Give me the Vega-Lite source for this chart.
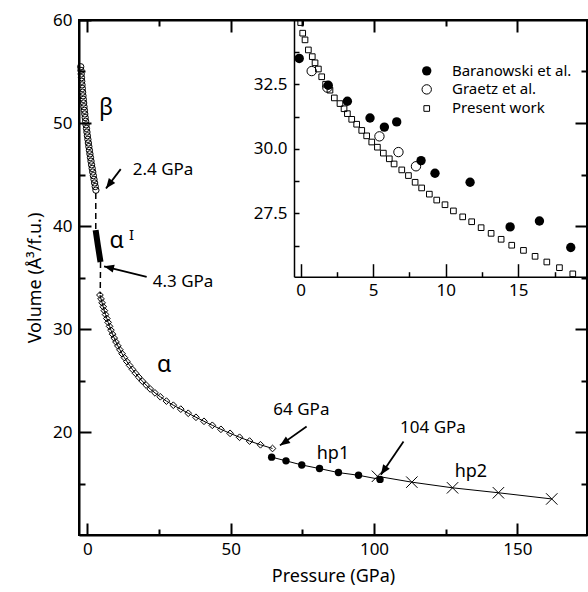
{
  "$schema": "https://vega.github.io/schema/vega-lite/v6.json",
  "width": 508,
  "height": 515,
  "autosize": "none",
  "padding": {"left": 79, "top": 20, "right": 1, "bottom": 57},
  "background": "white",
  "config": {
    "font": "Noto Sans",
    "view": {"stroke": "black", "strokeWidth": 2},
    "axis": {"labelFont": "Noto Sans", "titleFont": "Noto Sans", "labelColor": "black", "titleColor": "black", "domainColor": "black", "tickColor": "black", "ticks": true, "zindex": 1, "grid": false, "titleFontWeight": "normal", "labelFontSize": 17, "titleFontSize": 18}
  },
  "datasets": {
    "beta": [
      {"P": -2.30, "V": 55.46}, {"P": -2.22, "V": 55.11}, {"P": -2.13, "V": 54.76}, {"P": -2.04, "V": 54.40}, {"P": -1.94, "V": 54.05},
      {"P": -1.84, "V": 53.70}, {"P": -1.74, "V": 53.35}, {"P": -1.63, "V": 52.99}, {"P": -1.51, "V": 52.64}, {"P": -1.39, "V": 52.29},
      {"P": -1.27, "V": 51.94}, {"P": -1.14, "V": 51.58}, {"P": -1.01, "V": 51.23}, {"P": -0.88, "V": 50.88}, {"P": -0.74, "V": 50.53},
      {"P": -0.59, "V": 50.17}, {"P": -0.44, "V": 49.82}, {"P": -0.29, "V": 49.47}, {"P": -0.13, "V": 49.12}, {"P": 0.03, "V": 48.76},
      {"P": 0.20, "V": 48.41}, {"P": 0.37, "V": 48.06}, {"P": 0.54, "V": 47.71}, {"P": 0.73, "V": 47.35}, {"P": 0.91, "V": 47.00},
      {"P": 1.10, "V": 46.65}, {"P": 1.29, "V": 46.30}, {"P": 1.49, "V": 45.94}, {"P": 1.70, "V": 45.59}, {"P": 1.90, "V": 45.24},
      {"P": 2.11, "V": 44.89}, {"P": 2.33, "V": 44.53}, {"P": 2.55, "V": 44.18}, {"P": 2.77, "V": 43.83}, {"P": 3.00, "V": 43.48}
    ],
    "dash": [
      {"seg": "a", "P": 2.95, "V": 43.2}, {"seg": "a", "P": 2.95, "V": 39.6},
      {"seg": "b", "P": 4.62, "V": 36.5}, {"seg": "b", "P": 4.5, "V": 33.4}
    ],
    "alphaI": [
      {"P": 2.9, "V": 39.6}, {"P": 3.7, "V": 38.1}, {"P": 4.6, "V": 36.5}
    ],
    "alpha": [
      {"P": 4.40, "V": 33.30}, {"P": 4.78, "V": 32.92}, {"P": 5.16, "V": 32.54}, {"P": 5.55, "V": 32.16}, {"P": 5.95, "V": 31.78},
      {"P": 6.37, "V": 31.40}, {"P": 6.81, "V": 31.02}, {"P": 7.27, "V": 30.64}, {"P": 7.75, "V": 30.26}, {"P": 8.26, "V": 29.88},
      {"P": 8.80, "V": 29.50}, {"P": 9.38, "V": 29.12}, {"P": 10.00, "V": 28.74}, {"P": 10.66, "V": 28.36}, {"P": 11.37, "V": 27.98},
      {"P": 12.13, "V": 27.60}, {"P": 12.94, "V": 27.22}, {"P": 13.81, "V": 26.84}, {"P": 14.74, "V": 26.46}, {"P": 15.74, "V": 26.08},
      {"P": 16.81, "V": 25.70}, {"P": 17.96, "V": 25.32}, {"P": 19.19, "V": 24.94}, {"P": 20.51, "V": 24.56}, {"P": 21.93, "V": 24.18},
      {"P": 23.60, "V": 23.80}, {"P": 25.45, "V": 23.42}, {"P": 27.60, "V": 23.00}, {"P": 30.00, "V": 22.60}, {"P": 32.60, "V": 22.22},
      {"P": 35.20, "V": 21.82}, {"P": 37.90, "V": 21.43}, {"P": 40.70, "V": 21.04}, {"P": 43.60, "V": 20.65}, {"P": 46.60, "V": 20.26},
      {"P": 49.80, "V": 19.87}, {"P": 53.10, "V": 19.49}, {"P": 56.60, "V": 19.12}, {"P": 60.40, "V": 18.76}, {"P": 64.60, "V": 18.40}
    ],
    "hp1": [
      {"P": 64.3, "V": 17.56}, {"P": 69.3, "V": 17.2}, {"P": 74.8, "V": 16.8}, {"P": 81.0, "V": 16.45},
      {"P": 87.6, "V": 16.06}, {"P": 94.6, "V": 15.8}, {"P": 102.1, "V": 15.4}
    ],
    "hp2": [
      {"P": 101.2, "V": 15.7}, {"P": 113.2, "V": 15.13}, {"P": 127.4, "V": 14.58}, {"P": 143.4, "V": 14.1}, {"P": 162.0, "V": 13.5}
    ],
    "arrows": [
      {"id": 1, "P": 11.65, "V": 45.52, "P2": 6.52, "V2": 43.64},
      {"id": 2, "P": 20.7, "V": 35.05, "P2": 5.83, "V2": 36.09},
      {"id": 3, "P": 76.5, "V": 20.54, "P2": 67.2, "V2": 18.7},
      {"id": 4, "P": 110.3, "V": 19.08, "P2": 102.4, "V2": 15.84}
    ],
    "notes": [
      {"label": "2.4 GPa", "P": 15.84, "V": 44.94},
      {"label": "4.3 GPa", "P": 22.82, "V": 34.08},
      {"label": "64 GPa", "P": 64.9, "V": 21.61},
      {"label": "104 GPa", "P": 109.1, "V": 19.9}
    ],
    "phases": [
      {"label": "hp1", "P": 85.7, "V": 17.4},
      {"label": "hp2", "P": 133.8, "V": 15.62}
    ],
    "greek": [
      {"label": "β", "P": 6.5, "V": 50.8},
      {"label": "α", "P": 10.2, "V": 37.84},
      {"label": "α", "P": 26.8, "V": 25.79}
    ],
    "prime": [
      {"label": "I", "P": 15.4, "V": 38.6}
    ],
    "present": [
      {"P": 0.0, "V": 34.9}, {"P": 0.14, "V": 34.49}, {"P": 0.30, "V": 34.23}, {"P": 0.53, "V": 33.84}, {"P": 0.80, "V": 33.58},
      {"P": 0.99, "V": 33.34}, {"P": 1.22, "V": 33.10}, {"P": 1.45, "V": 32.80}, {"P": 1.72, "V": 32.51}, {"P": 2.02, "V": 32.28},
      {"P": 2.32, "V": 31.98}, {"P": 2.71, "V": 31.76}, {"P": 2.99, "V": 31.56}, {"P": 3.22, "V": 31.37}, {"P": 3.52, "V": 31.15},
      {"P": 3.86, "V": 30.96}, {"P": 4.21, "V": 30.72}, {"P": 4.55, "V": 30.51}, {"P": 4.90, "V": 30.27}, {"P": 5.29, "V": 30.07},
      {"P": 5.70, "V": 29.84}, {"P": 6.11, "V": 29.62}, {"P": 6.44, "V": 29.42}, {"P": 6.97, "V": 29.19}, {"P": 7.43, "V": 28.97},
      {"P": 7.89, "V": 28.71}, {"P": 8.34, "V": 28.49}, {"P": 8.87, "V": 28.25}, {"P": 9.38, "V": 28.02}, {"P": 9.95, "V": 27.84},
      {"P": 10.53, "V": 27.60}, {"P": 11.17, "V": 27.37}, {"P": 11.79, "V": 27.18}, {"P": 12.44, "V": 26.95}, {"P": 13.13, "V": 26.73},
      {"P": 13.82, "V": 26.50}, {"P": 14.55, "V": 26.27}, {"P": 15.36, "V": 26.07}, {"P": 16.16, "V": 25.84}, {"P": 16.97, "V": 25.62},
      {"P": 17.84, "V": 25.40}, {"P": 18.76, "V": 25.16}
    ],
    "baranowski": [
      {"P": -0.1, "V": 33.51}, {"P": 1.90, "V": 32.47}, {"P": 3.22, "V": 31.85}, {"P": 4.78, "V": 31.20}, {"P": 5.77, "V": 30.85},
      {"P": 6.62, "V": 31.05}, {"P": 8.30, "V": 29.55}, {"P": 9.26, "V": 29.06}, {"P": 11.68, "V": 28.71}, {"P": 14.44, "V": 26.98},
      {"P": 16.46, "V": 27.21}, {"P": 18.62, "V": 26.18}
    ],
    "graetz": [
      {"P": 0.76, "V": 33.02}, {"P": 1.84, "V": 32.38}, {"P": 5.43, "V": 30.49}, {"P": 6.74, "V": 29.88}, {"P": 7.95, "V": 29.33}
    ],
    "legend": [
      {"series": "Baranowski et al.", "P": 8.69, "V": 33.03, "T": 10.43},
      {"series": "Graetz et al.", "P": 8.69, "V": 32.31, "T": 10.43},
      {"series": "Present work", "P": 8.69, "V": 31.57, "T": 10.43}
    ]
  },
  "layer": [
    {
      "data": {"name": "beta"},
      "mark": {"type": "point", "shape": "circle", "filled": false, "stroke": "black", "strokeWidth": 1, "size": 40, "opacity": 1},
      "encoding": {
        "x": {"field": "P", "type": "quantitative", "scale": {"domain": [-2.9, 174.3], "nice": false, "zero": false},
          "axis": {"orient": "bottom", "values": [0, 50, 100, 150], "tickSize": -12, "tickWidth": 2, "domainWidth": 2,
            "labelPadding": 18, "title": "Pressure (GPa)", "titlePadding": 10}},
        "y": {"field": "V", "type": "quantitative", "scale": {"domain": [10, 60], "nice": false, "zero": false},
          "axis": {"orient": "left", "values": [20, 30, 40, 50, 60], "tickSize": -12, "tickWidth": 2, "domainWidth": 2,
            "labelPadding": 19, "title": "Volume (Å³/f.u.)", "titlePadding": 8}}
      }
    },
    {
      "data": {"name": "hp2"},
      "mark": {"type": "line", "stroke": "black", "strokeWidth": 1},
      "encoding": {
        "x": {"field": "P", "type": "quantitative", "scale": {"domain": [-2.9, 174.3], "nice": false, "zero": false},
          "axis": {"orient": "bottom", "values": [25, 75, 125], "labels": false, "domain": false, "tickSize": -6, "tickWidth": 2, "title": null}},
        "y": {"field": "V", "type": "quantitative", "scale": {"domain": [10, 60], "nice": false, "zero": false},
          "axis": {"orient": "left", "values": [15, 25, 35, 45, 55], "labels": false, "domain": false, "tickSize": -6, "tickWidth": 2, "title": null}}
      }
    },
    {
      "data": {"name": "hp2"},
      "mark": {"type": "point", "shape": "M-1,-1L1,1M-1,1L1,-1", "filled": false, "stroke": "black", "strokeWidth": 1, "size": 130, "opacity": 1},
      "encoding": {
        "x": {"field": "P", "type": "quantitative", "scale": {"domain": [-2.9, 174.3], "nice": false, "zero": false},
          "axis": {"orient": "top", "values": [0, 50, 100, 150], "labels": false, "domainWidth": 2, "tickSize": -12, "tickWidth": 2, "title": null}},
        "y": {"field": "V", "type": "quantitative", "scale": {"domain": [10, 60], "nice": false, "zero": false},
          "axis": {"orient": "right", "values": [20, 30, 40, 50], "labels": false, "domainWidth": 2, "tickSize": -12, "tickWidth": 2, "title": null}}
      }
    },
    {
      "data": {"name": "dash"},
      "mark": {"type": "line", "stroke": "black", "strokeWidth": 1.5, "strokeDash": [6, 4]},
      "encoding": {
        "x": {"field": "P", "type": "quantitative", "scale": {"domain": [-2.9, 174.3], "nice": false, "zero": false},
          "axis": {"orient": "top", "values": [25, 75, 125], "labels": false, "domain": false, "tickSize": -6, "tickWidth": 2, "title": null}},
        "y": {"field": "V", "type": "quantitative", "scale": {"domain": [10, 60], "nice": false, "zero": false},
          "axis": {"orient": "right", "values": [15, 25, 35, 45, 55], "labels": false, "domain": false, "tickSize": -6, "tickWidth": 2, "title": null}},
        "detail": {"field": "seg"},
        "order": {"field": "V", "sort": "descending"}
      }
    },
    {
      "data": {"name": "alphaI"},
      "mark": {"type": "line", "stroke": "black", "strokeWidth": 6, "strokeCap": "butt"},
      "encoding": {
        "x": {"field": "P", "type": "quantitative", "scale": {"domain": [-2.9, 174.3], "nice": false, "zero": false}, "axis": null},
        "y": {"field": "V", "type": "quantitative", "scale": {"domain": [10, 60], "nice": false, "zero": false}, "axis": null}
      }
    },
    {
      "data": {"name": "alpha"},
      "mark": {"type": "line", "stroke": "black", "strokeWidth": 1},
      "encoding": {
        "x": {"field": "P", "type": "quantitative", "scale": {"domain": [-2.9, 174.3], "nice": false, "zero": false}, "axis": null},
        "y": {"field": "V", "type": "quantitative", "scale": {"domain": [10, 60], "nice": false, "zero": false}, "axis": null}
      }
    },
    {
      "data": {"name": "alpha"},
      "mark": {"type": "point", "shape": "diamond", "filled": false, "stroke": "black", "strokeWidth": 1, "size": 45, "opacity": 1},
      "encoding": {
        "x": {"field": "P", "type": "quantitative", "scale": {"domain": [-2.9, 174.3], "nice": false, "zero": false}, "axis": null},
        "y": {"field": "V", "type": "quantitative", "scale": {"domain": [10, 60], "nice": false, "zero": false}, "axis": null}
      }
    },
    {
      "data": {"name": "hp1"},
      "mark": {"type": "line", "stroke": "black", "strokeWidth": 1},
      "encoding": {
        "x": {"field": "P", "type": "quantitative", "scale": {"domain": [-2.9, 174.3], "nice": false, "zero": false}, "axis": null},
        "y": {"field": "V", "type": "quantitative", "scale": {"domain": [10, 60], "nice": false, "zero": false}, "axis": null}
      }
    },
    {
      "data": {"name": "hp1"},
      "mark": {"type": "point", "shape": "circle", "filled": true, "fill": "black", "size": 55, "opacity": 1},
      "encoding": {
        "x": {"field": "P", "type": "quantitative", "scale": {"domain": [-2.9, 174.3], "nice": false, "zero": false}, "axis": null},
        "y": {"field": "V", "type": "quantitative", "scale": {"domain": [10, 60], "nice": false, "zero": false}, "axis": null}
      }
    },
    {
      "data": {"name": "arrows"},
      "mark": {"type": "rule", "stroke": "black", "strokeWidth": 1.8},
      "encoding": {
        "x": {"field": "P", "type": "quantitative", "scale": {"domain": [-2.9, 174.3], "nice": false, "zero": false}, "axis": null},
        "y": {"field": "V", "type": "quantitative", "scale": {"domain": [10, 60], "nice": false, "zero": false}, "axis": null},
        "x2": {"field": "P2"},
        "y2": {"field": "V2"}
      }
    },
    {
      "data": {"name": "arrows"},
      "transform": [{"filter": "datum.id === 1"}],
      "mark": {"type": "point", "shape": "M0,0L-0.8,2L0.8,2Z", "filled": true, "fill": "black", "size": 100, "angle": 217, "opacity": 1},
      "encoding": {
        "x": {"field": "P2", "type": "quantitative", "scale": {"domain": [-2.9, 174.3], "nice": false, "zero": false}, "axis": null},
        "y": {"field": "V2", "type": "quantitative", "scale": {"domain": [10, 60], "nice": false, "zero": false}, "axis": null}
      }
    },
    {
      "data": {"name": "arrows"},
      "transform": [{"filter": "datum.id === 2"}],
      "mark": {"type": "point", "shape": "M0,0L-0.8,2L0.8,2Z", "filled": true, "fill": "black", "size": 100, "angle": 284, "opacity": 1},
      "encoding": {
        "x": {"field": "P2", "type": "quantitative", "scale": {"domain": [-2.9, 174.3], "nice": false, "zero": false}, "axis": null},
        "y": {"field": "V2", "type": "quantitative", "scale": {"domain": [10, 60], "nice": false, "zero": false}, "axis": null}
      }
    },
    {
      "data": {"name": "arrows"},
      "transform": [{"filter": "datum.id === 3"}],
      "mark": {"type": "point", "shape": "M0,0L-0.8,2L0.8,2Z", "filled": true, "fill": "black", "size": 100, "angle": 235, "opacity": 1},
      "encoding": {
        "x": {"field": "P2", "type": "quantitative", "scale": {"domain": [-2.9, 174.3], "nice": false, "zero": false}, "axis": null},
        "y": {"field": "V2", "type": "quantitative", "scale": {"domain": [10, 60], "nice": false, "zero": false}, "axis": null}
      }
    },
    {
      "data": {"name": "arrows"},
      "transform": [{"filter": "datum.id === 4"}],
      "mark": {"type": "point", "shape": "M0,0L-0.8,2L0.8,2Z", "filled": true, "fill": "black", "size": 100, "angle": 214, "opacity": 1},
      "encoding": {
        "x": {"field": "P2", "type": "quantitative", "scale": {"domain": [-2.9, 174.3], "nice": false, "zero": false}, "axis": null},
        "y": {"field": "V2", "type": "quantitative", "scale": {"domain": [10, 60], "nice": false, "zero": false}, "axis": null}
      }
    },
    {
      "data": {"name": "notes"},
      "mark": {"type": "text", "align": "left", "baseline": "alphabetic", "fontSize": 17, "font": "Noto Sans", "color": "black"},
      "encoding": {
        "x": {"field": "P", "type": "quantitative", "scale": {"domain": [-2.9, 174.3], "nice": false, "zero": false}, "axis": null},
        "y": {"field": "V", "type": "quantitative", "scale": {"domain": [10, 60], "nice": false, "zero": false}, "axis": null},
        "text": {"field": "label"}
      }
    },
    {
      "data": {"name": "phases"},
      "mark": {"type": "text", "align": "center", "baseline": "alphabetic", "fontSize": 18, "font": "Noto Sans", "color": "black"},
      "encoding": {
        "x": {"field": "P", "type": "quantitative", "scale": {"domain": [-2.9, 174.3], "nice": false, "zero": false}, "axis": null},
        "y": {"field": "V", "type": "quantitative", "scale": {"domain": [10, 60], "nice": false, "zero": false}, "axis": null},
        "text": {"field": "label"}
      }
    },
    {
      "data": {"name": "greek"},
      "mark": {"type": "text", "align": "center", "baseline": "alphabetic", "fontSize": 23, "font": "Noto Sans", "color": "black"},
      "encoding": {
        "x": {"field": "P", "type": "quantitative", "scale": {"domain": [-2.9, 174.3], "nice": false, "zero": false}, "axis": null},
        "y": {"field": "V", "type": "quantitative", "scale": {"domain": [10, 60], "nice": false, "zero": false}, "axis": null},
        "text": {"field": "label"}
      }
    },
    {
      "data": {"name": "prime"},
      "mark": {"type": "text", "align": "center", "baseline": "alphabetic", "fontSize": 15, "font": "Noto Sans", "color": "black"},
      "encoding": {
        "x": {"field": "P", "type": "quantitative", "scale": {"domain": [-2.9, 174.3], "nice": false, "zero": false}, "axis": null},
        "y": {"field": "V", "type": "quantitative", "scale": {"domain": [10, 60], "nice": false, "zero": false}, "axis": null},
        "text": {"field": "label"}
      }
    },
    {
      "data": {"name": "present"},
      "mark": {"type": "point", "shape": "square", "filled": false, "stroke": "black", "strokeWidth": 1, "size": 32, "opacity": 1},
      "encoding": {
        "x": {"field": "P", "type": "quantitative", "scale": {"domain": [-0.46, 19.74], "range": [215, 508], "nice": false, "zero": false},
          "axis": {"orient": "bottom", "offset": -258.3, "values": [0, 5, 10, 15], "format": "d",
            "tickSize": -13, "tickWidth": 1.5, "domainWidth": 1.5, "labelPadding": 19, "title": null}},
        "y": {"field": "V", "type": "quantitative", "scale": {"domain": [25.05, 35], "range": [256.7, 0], "nice": false, "zero": false},
          "axis": {"orient": "left", "offset": -215, "values": [27.5, 30, 32.5], "format": ".1f",
            "tickSize": -5, "tickWidth": 1.5, "domainWidth": 1.5, "labelPadding": 12, "title": null}}
      }
    },
    {
      "data": {"name": "baranowski"},
      "mark": {"type": "point", "shape": "circle", "filled": true, "fill": "black", "size": 88, "opacity": 1},
      "encoding": {
        "x": {"field": "P", "type": "quantitative", "scale": {"domain": [-0.46, 19.74], "range": [215, 508], "nice": false, "zero": false},
          "axis": {"orient": "bottom", "offset": -258.3, "values": [2.5, 7.5, 12.5, 17.5], "labels": false, "domain": false,
            "tickSize": -5, "tickWidth": 1.5, "title": null}},
        "y": {"field": "V", "type": "quantitative", "scale": {"domain": [25.05, 35], "range": [256.7, 0], "nice": false, "zero": false},
          "axis": {"orient": "left", "offset": -215, "values": [26.25, 28.75, 31.25, 33.75], "labels": false, "domain": false,
            "tickSize": -5, "tickWidth": 1.5, "title": null}}
      }
    },
    {
      "data": {"name": "graetz"},
      "mark": {"type": "point", "shape": "circle", "filled": false, "stroke": "black", "strokeWidth": 1, "size": 88, "opacity": 1},
      "encoding": {
        "x": {"field": "P", "type": "quantitative", "scale": {"domain": [-0.46, 19.74], "range": [215, 508], "nice": false, "zero": false}, "axis": null},
        "y": {"field": "V", "type": "quantitative", "scale": {"domain": [25.05, 35], "range": [256.7, 0], "nice": false, "zero": false}, "axis": null}
      }
    },
    {
      "data": {"name": "legend"},
      "transform": [{"filter": "datum.series === 'Baranowski et al.'"}],
      "mark": {"type": "point", "shape": "circle", "filled": true, "fill": "black", "size": 88, "opacity": 1},
      "encoding": {
        "x": {"field": "P", "type": "quantitative", "scale": {"domain": [-0.46, 19.74], "range": [215, 508], "nice": false, "zero": false}, "axis": null},
        "y": {"field": "V", "type": "quantitative", "scale": {"domain": [25.05, 35], "range": [256.7, 0], "nice": false, "zero": false}, "axis": null}
      }
    },
    {
      "data": {"name": "legend"},
      "transform": [{"filter": "datum.series === 'Graetz et al.'"}],
      "mark": {"type": "point", "shape": "circle", "filled": false, "stroke": "black", "strokeWidth": 1, "size": 88, "opacity": 1},
      "encoding": {
        "x": {"field": "P", "type": "quantitative", "scale": {"domain": [-0.46, 19.74], "range": [215, 508], "nice": false, "zero": false}, "axis": null},
        "y": {"field": "V", "type": "quantitative", "scale": {"domain": [25.05, 35], "range": [256.7, 0], "nice": false, "zero": false}, "axis": null}
      }
    },
    {
      "data": {"name": "legend"},
      "transform": [{"filter": "datum.series === 'Present work'"}],
      "mark": {"type": "point", "shape": "square", "filled": false, "stroke": "black", "strokeWidth": 1, "size": 32, "opacity": 1},
      "encoding": {
        "x": {"field": "P", "type": "quantitative", "scale": {"domain": [-0.46, 19.74], "range": [215, 508], "nice": false, "zero": false}, "axis": null},
        "y": {"field": "V", "type": "quantitative", "scale": {"domain": [25.05, 35], "range": [256.7, 0], "nice": false, "zero": false}, "axis": null}
      }
    },
    {
      "data": {"name": "legend"},
      "mark": {"type": "text", "align": "left", "baseline": "middle", "fontSize": 15, "font": "Noto Sans", "color": "black"},
      "encoding": {
        "x": {"field": "T", "type": "quantitative", "scale": {"domain": [-0.46, 19.74], "range": [215, 508], "nice": false, "zero": false}, "axis": null},
        "y": {"field": "V", "type": "quantitative", "scale": {"domain": [25.05, 35], "range": [256.7, 0], "nice": false, "zero": false}, "axis": null},
        "text": {"field": "series"}
      }
    }
  ],
  "resolve": {"scale": {"x": "independent", "y": "independent"}, "axis": {"x": "independent", "y": "independent"}}
}
